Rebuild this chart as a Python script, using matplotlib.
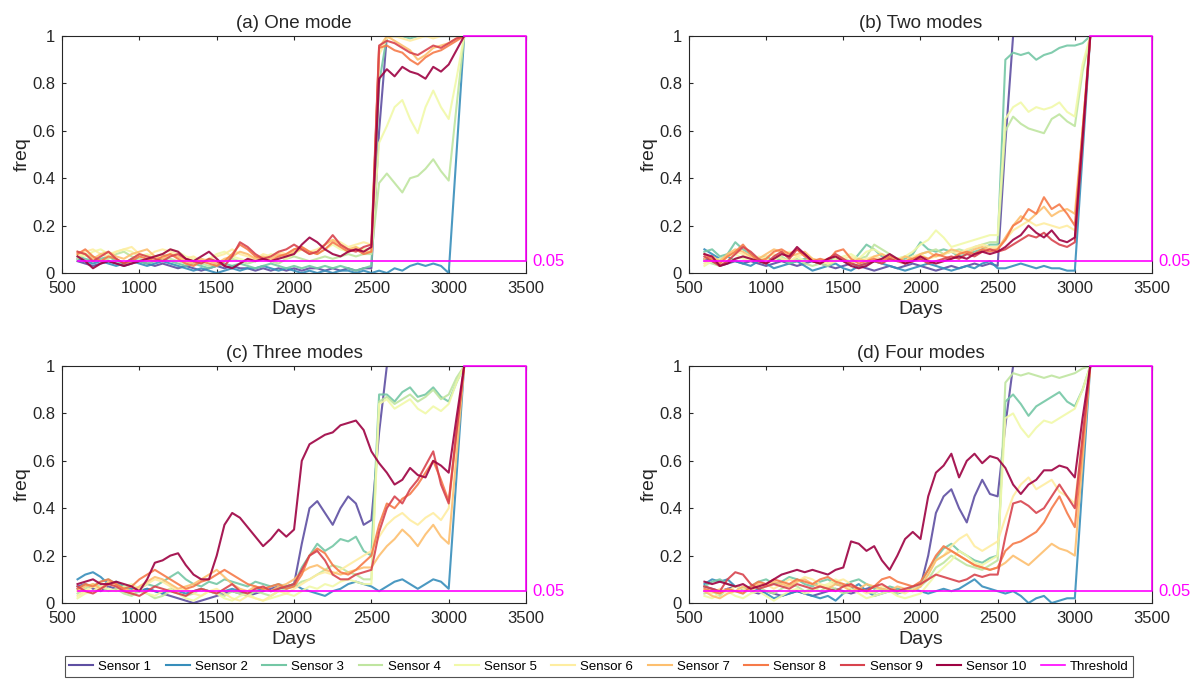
import numpy as np
import matplotlib
matplotlib.use('Agg')
import matplotlib.pyplot as plt

plt.rcParams['font.family'] = ['Liberation Sans', 'DejaVu Sans']

# day grid shared by every sensor curve (600 ... 3100, every 50 days)
days = list(range(600, 3101, 50))

# threshold line (plus its run up the right edge)
thr_days = [600, 3500, 3500, 3100]
thr_vals = [0.05, 0.05, 1.0, 1.0]
thr_label = 0.05

titles = ['(a) One mode', '(b) Two modes', '(c) Three modes', '(d) Four modes']
sensor_names = ['Sensor %d' % i for i in range(1, 11)]

# ---- (a) One mode ----
a1 = [0.05,0.04,0.03,0.04,0.05, 0.04,0.03,0.04,0.05,0.04, 0.03,0.04,0.03,0.02,0.03, 0.02,0.01,0.02,0.03,0.02,
      0.03,0.02,0.02,0.01,0.02, 0.01,0.02,0.01,0.02,0.01, 0.02,0.02,0.01,0.02,0.01, 0.02,0.01,0.02,
      0.02,0.6,1,1,1, 1,1,1,1,1, 1,1,1]
a2 = [0.06,0.05,0.04,0.05,0.04, 0.03,0.04,0.05,0.04,0.03, 0.04,0.05,0.04,0.03,0.02, 0.01,0.02,0.01,0.0,0.01,
      0.02,0.01,0.02,0.02,0.03, 0.02,0.01,0.02,0.01,0.0, 0.01,0.0,0.01,0.0,0.01, 0.01,0.0,0.01,
      0.0,0.01,0.0,0.02,0.01, 0.03,0.04,0.03,0.04,0.03, 0.0,0.5,1]
a3 = [0.07,0.06,0.05,0.06,0.07, 0.05,0.04,0.06,0.05,0.04, 0.05,0.06,0.05,0.04,0.03, 0.04,0.03,0.02,0.03,0.04,
      0.03,0.04,0.03,0.02,0.03, 0.04,0.03,0.02,0.03,0.02, 0.03,0.02,0.03,0.02,0.03, 0.02,0.01,0.02,
      0.03,0.8,1,1,1, 0.99,1,1,1,1, 1,1,1]
a4 = [0.06,0.08,0.07,0.05,0.06, 0.08,0.09,0.07,0.06,0.05, 0.07,0.08,0.06,0.05,0.04, 0.05,0.04,0.03,0.04,0.05,
      0.06,0.05,0.04,0.05,0.06, 0.05,0.04,0.06,0.07,0.06, 0.05,0.06,0.07,0.06,0.07, 0.08,0.07,0.08,
      0.08,0.38,0.42,0.38,0.34, 0.4,0.41,0.44,0.48,0.43, 0.39,0.7,1]
a5 = [0.08,0.07,0.09,0.1,0.08, 0.09,0.1,0.09,0.07,0.08, 0.06,0.08,0.1,0.09,0.07, 0.06,0.05,0.06,0.08,0.09,
      0.07,0.06,0.05,0.07,0.06, 0.08,0.07,0.06,0.08,0.1, 0.09,0.08,0.1,0.12,0.1, 0.09,0.11,0.1,
      0.1,0.55,0.62,0.7,0.73, 0.65,0.59,0.7,0.77,0.7, 0.65,0.82,1]
a6 = [0.07,0.09,0.1,0.08,0.07, 0.09,0.1,0.11,0.08,0.07, 0.09,0.1,0.09,0.08,0.06, 0.07,0.05,0.06,0.07,0.08,
      0.1,0.08,0.07,0.06,0.08, 0.07,0.09,0.08,0.1,0.11, 0.09,0.1,0.12,0.14,0.13, 0.11,0.12,0.13,
      0.12,0.92,0.99,1,0.99, 0.98,0.99,1,0.99,1, 1,1,1]
a7 = [0.09,0.08,0.06,0.08,0.09, 0.07,0.06,0.08,0.09,0.1, 0.07,0.06,0.08,0.07,0.05, 0.04,0.06,0.05,0.04,0.06,
      0.07,0.09,0.08,0.06,0.07, 0.06,0.08,0.07,0.09,0.1, 0.08,0.09,0.12,0.14,0.12, 0.1,0.11,0.09,
      0.09,0.95,1.0,0.98,0.96, 0.94,0.9,0.92,0.95,0.96, 0.97,0.99,1]
a8 = [0.08,0.1,0.07,0.05,0.07, 0.06,0.04,0.05,0.07,0.06, 0.05,0.07,0.08,0.06,0.04, 0.03,0.05,0.04,0.03,0.05,
      0.08,0.12,0.1,0.07,0.06, 0.05,0.07,0.08,0.1,0.11, 0.09,0.08,0.1,0.13,0.11, 0.09,0.1,0.08,
      0.09,0.95,0.96,0.94,0.93, 0.9,0.88,0.91,0.93,0.94, 0.96,0.98,1]
a9 = [0.09,0.08,0.05,0.07,0.09, 0.06,0.04,0.06,0.08,0.07, 0.06,0.05,0.07,0.08,0.06, 0.05,0.04,0.06,0.05,0.03,
      0.07,0.13,0.11,0.08,0.06, 0.07,0.09,0.1,0.12,0.1, 0.08,0.09,0.12,0.16,0.12, 0.1,0.09,0.11,
      0.12,0.96,0.98,0.97,0.95, 0.93,0.92,0.94,0.96,0.95, 0.97,0.99,1]
a10 = [0.07,0.05,0.02,0.04,0.05, 0.04,0.03,0.04,0.05,0.06, 0.07,0.08,0.1,0.09,0.06, 0.05,0.07,0.09,0.06,0.03,
       0.02,0.04,0.06,0.05,0.06, 0.05,0.06,0.07,0.08,0.12, 0.15,0.13,0.1,0.08,0.07, 0.09,0.1,0.09,
       0.11,0.82,0.86,0.83,0.87, 0.85,0.84,0.82,0.87,0.85, 0.88,0.94,1]

# ---- (b) Two modes ----
b1 = [0.06,0.05,0.03,0.04,0.05, 0.04,0.05,0.04,0.03,0.04, 0.05,0.04,0.03,0.04,0.05, 0.04,0.03,0.02,0.03,0.04,
      0.03,0.02,0.01,0.02,0.03, 0.02,0.03,0.04,0.03,0.02, 0.01,0.02,0.03,0.02,0.03, 0.04,0.03,0.04,
      0.03,0.55,1,1,1, 1,1,1,1,1, 1,1,1]
b2 = [0.1,0.08,0.06,0.07,0.05, 0.04,0.03,0.05,0.04,0.02, 0.03,0.04,0.05,0.03,0.01, 0.02,0.03,0.04,0.02,0.01,
      0.03,0.04,0.05,0.04,0.03, 0.02,0.01,0.02,0.03,0.04, 0.03,0.02,0.01,0.02,0.03, 0.02,0.04,0.05,
      0.02,0.02,0.03,0.04,0.03, 0.02,0.03,0.02,0.02,0.01, 0.01,0.5,1]
b3 = [0.09,0.1,0.07,0.08,0.13, 0.1,0.08,0.06,0.07,0.05, 0.06,0.04,0.05,0.06,0.05, 0.04,0.05,0.06,0.05,0.04,
      0.08,0.12,0.1,0.07,0.06, 0.05,0.06,0.08,0.13,0.1, 0.09,0.1,0.09,0.07,0.08, 0.09,0.1,0.12,
      0.12,0.9,0.93,0.92,0.93, 0.9,0.92,0.93,0.95,0.96, 0.96,0.97,1]
b4 = [0.05,0.04,0.03,0.05,0.06, 0.07,0.06,0.05,0.04,0.06, 0.07,0.05,0.06,0.04,0.03, 0.04,0.03,0.05,0.06,0.05,
      0.06,0.07,0.12,0.1,0.08, 0.06,0.07,0.06,0.08,0.09, 0.1,0.08,0.09,0.1,0.09, 0.11,0.12,0.13,
      0.13,0.6,0.66,0.63,0.61, 0.6,0.59,0.65,0.67,0.64, 0.62,0.85,1]
b5 = [0.03,0.05,0.06,0.07,0.08, 0.06,0.05,0.07,0.06,0.05, 0.08,0.09,0.07,0.05,0.06, 0.05,0.04,0.06,0.07,0.08,
      0.06,0.09,0.1,0.08,0.07, 0.06,0.07,0.09,0.12,0.14, 0.18,0.15,0.11,0.12,0.13, 0.14,0.15,0.16,
      0.16,0.65,0.7,0.72,0.68, 0.7,0.69,0.7,0.72,0.68, 0.66,0.88,1]
b6 = [0.04,0.06,0.05,0.07,0.09, 0.08,0.06,0.05,0.07,0.08, 0.06,0.05,0.07,0.08,0.06, 0.05,0.04,0.05,0.06,0.07,
      0.05,0.06,0.07,0.06,0.05, 0.06,0.05,0.07,0.08,0.06, 0.07,0.08,0.09,0.08,0.1, 0.11,0.12,0.11,
      0.11,0.14,0.18,0.2,0.22, 0.2,0.21,0.2,0.19,0.2, 0.18,0.6,1]
b7 = [0.06,0.07,0.05,0.08,0.1, 0.09,0.07,0.06,0.08,0.1, 0.09,0.07,0.08,0.09,0.06, 0.05,0.06,0.07,0.05,0.04,
      0.06,0.05,0.07,0.08,0.06, 0.05,0.07,0.06,0.08,0.09, 0.07,0.08,0.1,0.09,0.08, 0.1,0.11,0.1,
      0.1,0.15,0.2,0.24,0.22, 0.25,0.28,0.24,0.26,0.27, 0.25,0.6,1]
b8 = [0.08,0.06,0.04,0.07,0.09, 0.12,0.08,0.05,0.06,0.09, 0.1,0.08,0.1,0.07,0.05, 0.06,0.05,0.09,0.1,0.06,
      0.04,0.05,0.06,0.05,0.07, 0.06,0.05,0.06,0.07,0.06, 0.08,0.07,0.06,0.08,0.09, 0.08,0.1,0.09,
      0.1,0.14,0.2,0.22,0.27, 0.25,0.32,0.27,0.29,0.25, 0.2,0.6,1]
b9 = [0.07,0.05,0.03,0.05,0.08, 0.11,0.09,0.06,0.04,0.07, 0.09,0.06,0.1,0.08,0.05, 0.04,0.06,0.08,0.06,0.04,
      0.03,0.04,0.05,0.04,0.06, 0.05,0.04,0.05,0.06,0.04, 0.05,0.06,0.07,0.06,0.08, 0.07,0.09,0.1,
      0.09,0.1,0.12,0.14,0.16, 0.15,0.17,0.14,0.12,0.11, 0.13,0.55,1]
b10 = [0.08,0.07,0.03,0.04,0.06, 0.07,0.06,0.05,0.04,0.06, 0.08,0.07,0.11,0.08,0.05, 0.04,0.06,0.07,0.05,0.03,
       0.02,0.03,0.05,0.06,0.08, 0.06,0.04,0.05,0.07,0.05, 0.04,0.05,0.06,0.07,0.06, 0.08,0.09,0.08,
       0.09,0.11,0.14,0.16,0.2, 0.17,0.15,0.18,0.14,0.13, 0.15,0.57,1]

# ---- (c) Three modes ----
c1 = [0.07,0.08,0.06,0.05,0.07, 0.06,0.05,0.04,0.05,0.06, 0.05,0.04,0.03,0.02,0.01, 0.0,0.01,0.02,0.03,0.04,
      0.05,0.04,0.03,0.04,0.05, 0.06,0.07,0.06,0.08,0.25, 0.4,0.43,0.38,0.33,0.4, 0.45,0.42,0.33,
      0.35,0.72,1,1,1, 1,1,1,1,1, 1,1,1]
c2 = [0.1,0.12,0.13,0.11,0.08, 0.09,0.07,0.06,0.05,0.06, 0.05,0.04,0.06,0.05,0.04, 0.05,0.06,0.05,0.04,0.05,
      0.06,0.05,0.04,0.05,0.06, 0.05,0.06,0.07,0.08,0.06, 0.05,0.04,0.03,0.05,0.06, 0.08,0.09,0.08,
      0.07,0.05,0.07,0.09,0.1, 0.08,0.06,0.08,0.1,0.09, 0.06,0.53,1]
c3 = [0.06,0.08,0.07,0.09,0.1, 0.08,0.07,0.05,0.06,0.08, 0.07,0.09,0.11,0.13,0.1, 0.08,0.07,0.09,0.08,0.1,
      0.09,0.08,0.07,0.09,0.08, 0.07,0.08,0.07,0.08,0.15, 0.2,0.25,0.22,0.24,0.27, 0.26,0.28,0.22,
      0.2,0.88,0.88,0.85,0.89, 0.91,0.87,0.88,0.91,0.87, 0.85,0.93,1]
c4 = [0.04,0.06,0.08,0.07,0.05, 0.06,0.04,0.03,0.05,0.04, 0.02,0.03,0.05,0.04,0.03, 0.04,0.06,0.05,0.04,0.03,
      0.05,0.04,0.03,0.05,0.04, 0.03,0.05,0.06,0.07,0.09, 0.1,0.12,0.14,0.16,0.15, 0.13,0.12,0.1,
      0.1,0.85,0.87,0.84,0.86, 0.88,0.85,0.87,0.9,0.86, 0.88,0.95,1]
c5 = [0.02,0.04,0.05,0.07,0.06, 0.05,0.07,0.08,0.06,0.04, 0.03,0.05,0.06,0.04,0.02, 0.01,0.03,0.05,0.04,0.02,
      0.01,0.03,0.04,0.02,0.01, 0.02,0.03,0.04,0.03,0.05, 0.07,0.06,0.08,0.07,0.09, 0.1,0.09,0.08,
      0.08,0.84,0.86,0.82,0.84, 0.86,0.82,0.8,0.83,0.81, 0.84,0.93,1]
c6 = [0.03,0.05,0.07,0.06,0.08, 0.07,0.05,0.04,0.06,0.08, 0.1,0.09,0.07,0.05,0.06, 0.04,0.03,0.05,0.06,0.04,
      0.02,0.01,0.03,0.02,0.01, 0.03,0.05,0.04,0.06,0.08, 0.1,0.12,0.13,0.12,0.14, 0.16,0.18,0.2,
      0.22,0.28,0.33,0.36,0.38, 0.35,0.33,0.36,0.38,0.35, 0.4,0.7,1]
c7 = [0.05,0.07,0.08,0.06,0.09, 0.08,0.06,0.05,0.07,0.09, 0.11,0.1,0.08,0.06,0.07, 0.08,0.1,0.12,0.14,0.11,
      0.08,0.06,0.05,0.07,0.06, 0.05,0.07,0.08,0.1,0.13, 0.15,0.16,0.14,0.13,0.12, 0.13,0.14,0.15,
      0.15,0.2,0.24,0.27,0.31, 0.28,0.24,0.29,0.33,0.28, 0.25,0.62,1]
c8 = [0.06,0.08,0.07,0.09,0.1, 0.08,0.06,0.07,0.1,0.12, 0.14,0.12,0.1,0.08,0.06, 0.07,0.09,0.1,0.12,0.14,
      0.12,0.1,0.08,0.07,0.06, 0.07,0.08,0.06,0.07,0.12, 0.2,0.23,0.21,0.16,0.13, 0.12,0.14,0.17,
      0.2,0.33,0.42,0.4,0.44, 0.46,0.5,0.55,0.6,0.52, 0.43,0.72,1]
c9 = [0.07,0.05,0.04,0.06,0.08, 0.07,0.05,0.04,0.03,0.05, 0.07,0.06,0.05,0.04,0.03, 0.05,0.06,0.05,0.04,0.06,
      0.08,0.05,0.04,0.06,0.07, 0.05,0.06,0.07,0.08,0.14, 0.2,0.22,0.18,0.12,0.1, 0.1,0.12,0.13,
      0.14,0.3,0.4,0.45,0.42, 0.48,0.52,0.58,0.64,0.5, 0.42,0.72,1]
c10 = [0.08,0.09,0.1,0.08,0.08, 0.09,0.08,0.07,0.05,0.1, 0.17,0.18,0.2,0.21,0.16, 0.12,0.1,0.1,0.2,0.33,
       0.38,0.36,0.32,0.28,0.24, 0.27,0.31,0.28,0.31,0.6, 0.67,0.69,0.71,0.72,0.75, 0.76,0.77,0.73,
       0.64,0.59,0.55,0.5,0.52, 0.57,0.54,0.53,0.6,0.58, 0.55,0.78,1]

# ---- (d) Four modes ----
d1 = [0.07,0.06,0.05,0.06,0.07, 0.06,0.05,0.04,0.05,0.04, 0.03,0.04,0.05,0.04,0.03, 0.04,0.05,0.06,0.05,0.04,
      0.05,0.06,0.07,0.06,0.05, 0.06,0.05,0.06,0.07,0.2, 0.38,0.45,0.48,0.4,0.34, 0.45,0.52,0.46,
      0.45,0.75,1,1,1, 1,1,1,1,1, 1,1,1]
d2 = [0.08,0.1,0.09,0.1,0.07, 0.06,0.05,0.06,0.04,0.02, 0.03,0.04,0.05,0.04,0.03, 0.02,0.03,0.01,0.04,0.06,
      0.08,0.05,0.03,0.04,0.05, 0.04,0.05,0.06,0.05,0.04, 0.05,0.06,0.05,0.06,0.08, 0.1,0.07,0.06,
      0.05,0.04,0.05,0.03,0.0, 0.02,0.03,0.0,0.01,0.02, 0.02,0.51,1]
d3 = [0.07,0.09,0.1,0.08,0.07, 0.06,0.07,0.09,0.1,0.08, 0.09,0.11,0.1,0.08,0.07, 0.09,0.1,0.08,0.07,0.09,
      0.1,0.08,0.06,0.05,0.07, 0.06,0.05,0.07,0.08,0.14, 0.19,0.23,0.25,0.22,0.2, 0.18,0.17,0.19,
      0.2,0.85,0.88,0.84,0.79, 0.83,0.85,0.87,0.89,0.85, 0.83,0.9,1]
d4 = [0.04,0.05,0.03,0.06,0.05, 0.04,0.06,0.07,0.05,0.04, 0.06,0.08,0.07,0.05,0.06, 0.05,0.07,0.06,0.04,0.05,
      0.06,0.05,0.04,0.06,0.05, 0.04,0.06,0.05,0.07,0.1, 0.15,0.17,0.2,0.18,0.16, 0.15,0.14,0.16,
      0.18,0.93,0.97,0.96,0.97, 0.96,0.95,0.96,0.95,0.96, 0.97,0.99,1]
d5 = [0.03,0.02,0.04,0.05,0.03, 0.02,0.04,0.05,0.03,0.01, 0.03,0.05,0.06,0.04,0.05, 0.07,0.08,0.1,0.08,0.06,
      0.04,0.02,0.03,0.04,0.05, 0.03,0.02,0.03,0.04,0.08, 0.12,0.15,0.18,0.22,0.2, 0.17,0.16,0.18,
      0.2,0.78,0.8,0.74,0.7, 0.74,0.77,0.76,0.78,0.8, 0.82,0.9,1]
d6 = [0.05,0.04,0.06,0.05,0.07, 0.06,0.05,0.07,0.08,0.06, 0.08,0.1,0.09,0.11,0.1, 0.08,0.07,0.09,0.1,0.08,
      0.06,0.04,0.05,0.07,0.06, 0.05,0.04,0.06,0.07,0.12, 0.18,0.2,0.24,0.27,0.29, 0.24,0.22,0.24,
      0.26,0.36,0.45,0.5,0.53, 0.48,0.5,0.52,0.47,0.45, 0.42,0.7,1]
d7 = [0.05,0.03,0.02,0.04,0.05, 0.07,0.06,0.08,0.07,0.09, 0.08,0.07,0.09,0.1,0.08, 0.07,0.06,0.08,0.07,0.05,
      0.06,0.08,0.07,0.06,0.05, 0.07,0.06,0.05,0.07,0.12, 0.18,0.2,0.22,0.2,0.18, 0.16,0.15,0.14,
      0.15,0.17,0.2,0.18,0.16, 0.19,0.22,0.25,0.23,0.22, 0.2,0.6,1]
d8 = [0.06,0.05,0.04,0.06,0.05, 0.04,0.07,0.09,0.08,0.1, 0.09,0.08,0.1,0.09,0.08, 0.1,0.11,0.09,0.08,0.07,
      0.06,0.05,0.07,0.1,0.11, 0.09,0.08,0.07,0.09,0.14, 0.2,0.24,0.22,0.2,0.18, 0.16,0.15,0.14,
      0.15,0.22,0.25,0.26,0.28, 0.3,0.34,0.4,0.45,0.38, 0.32,0.66,1]
d9 = [0.07,0.06,0.05,0.1,0.13, 0.12,0.08,0.06,0.07,0.08, 0.07,0.06,0.08,0.07,0.06, 0.07,0.06,0.05,0.07,0.08,
      0.06,0.05,0.07,0.08,0.06, 0.05,0.06,0.07,0.08,0.1, 0.12,0.11,0.1,0.09,0.1, 0.12,0.11,0.12,
      0.12,0.28,0.42,0.43,0.41, 0.38,0.4,0.45,0.5,0.45, 0.4,0.7,1]
d10 = [0.09,0.08,0.09,0.08,0.07, 0.08,0.06,0.07,0.08,0.1, 0.12,0.13,0.14,0.13,0.14, 0.13,0.12,0.14,0.15,0.26,
       0.25,0.22,0.24,0.18,0.14, 0.2,0.27,0.3,0.27,0.45, 0.55,0.58,0.63,0.53,0.6, 0.63,0.59,0.62,
       0.61,0.57,0.5,0.46,0.5, 0.52,0.56,0.56,0.58,0.57, 0.53,0.78,1]

panels = [
    [a1, a2, a3, a4, a5, a6, a7, a8, a9, a10],
    [b1, b2, b3, b4, b5, b6, b7, b8, b9, b10],
    [c1, c2, c3, c4, c5, c6, c7, c8, c9, c10],
    [d1, d2, d3, d4, d5, d6, d7, d8, d9, d10],
]

colors = plt.cm.Spectral_r(np.linspace(0, 1, 10))
magenta = '#ff00ff'
dark = '#262626'

fig = plt.figure(figsize=(11.98, 6.79), dpi=100)
positions = [
    [0.0518, 0.5979, 0.3873, 0.3490],
    [0.5751, 0.5979, 0.3865, 0.3490],
    [0.0518, 0.1119, 0.3873, 0.3490],
    [0.5751, 0.1119, 0.3865, 0.3490],
]

for k in range(4):
    ax = fig.add_axes(positions[k])
    for i in range(10):
        ax.plot(days, panels[k][i], color=colors[i], linewidth=1.5, alpha=0.9,
                label=sensor_names[i])
    ax.plot(thr_days, thr_vals, color=magenta, linewidth=1.2, clip_on=False,
            label='Threshold', zorder=5)
    ax.text(3540, thr_label, '%.2f' % thr_label, color=magenta, fontsize=12,
            va='center', ha='left')

    ax.set_xlim(500, 3500)
    ax.set_ylim(0, 1)
    ax.set_xticks(range(500, 3501, 500))
    ax.set_yticks([0, 0.2, 0.4, 0.6, 0.8, 1])
    ax.set_yticklabels(['0', '0.2', '0.4', '0.6', '0.8', '1'])
    ax.tick_params(direction='in', length=3, width=0.8, labelsize=12,
                   top=True, right=False, colors=dark)
    ax.tick_params(axis='x', pad=6)
    ax.tick_params(axis='y', pad=5)
    for s in ax.spines.values():
        s.set_color(dark)
        s.set_linewidth(0.8)
    ax.set_title(titles[k], fontsize=13.5, pad=6, color=dark)
    ax.set_xlabel('Days', fontsize=14, labelpad=3, color=dark)
    ax.set_ylabel('freq', fontsize=14, labelpad=1, color=dark)
    if k == 0:
        handles, labels = ax.get_legend_handles_labels()

leg = fig.legend(handles, labels, loc='center', bbox_to_anchor=(0.5, 0.0185),
                 ncol=11, fontsize=9.5, frameon=True, fancybox=False,
                 handlelength=1.8, handletextpad=0.4, columnspacing=1.1,
                 borderpad=0.3, edgecolor=dark)
leg.get_frame().set_linewidth(0.8)
for h in leg.get_lines():
    h.set_alpha(1)

fig.savefig('out.png', dpi=100)
